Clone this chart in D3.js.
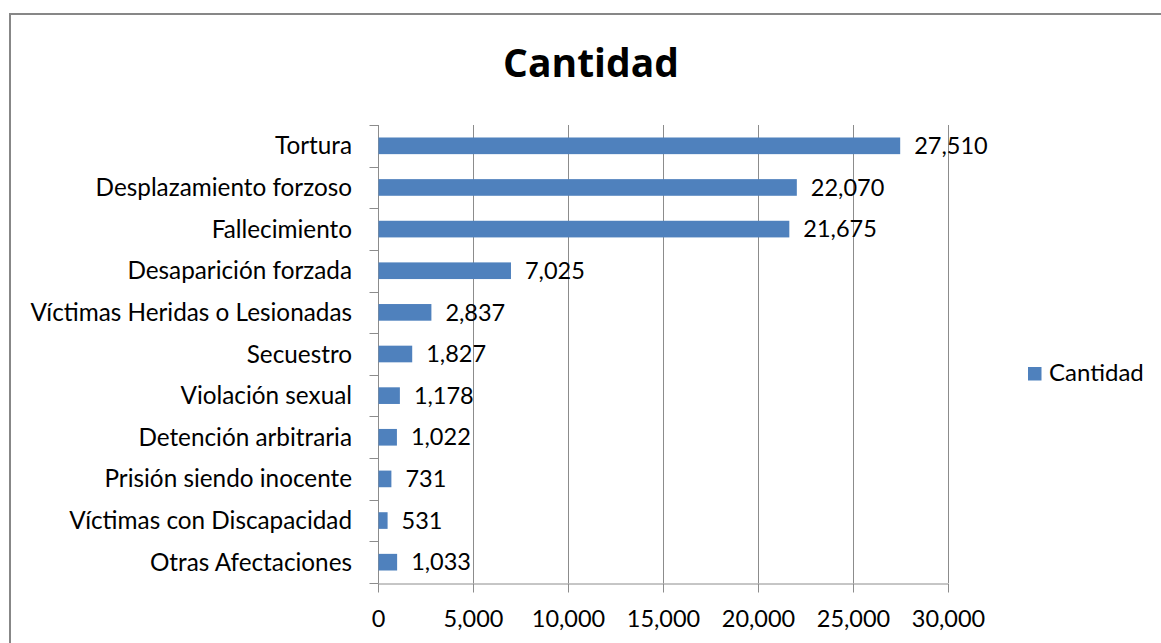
<!DOCTYPE html><html><head><script src="https://cdn.jsdelivr.net/npm/d3@7"></script>
<style>body{margin:0;background:#fff}text{fill:#000}</style></head><body><svg id="s" width="1161" height="643"></svg><script>
const categories=["Tortura","Desplazamiento forzoso","Fallecimiento","Desaparición forzada","Víctimas Heridas o Lesionadas","Secuestro","Violación sexual","Detención arbitraria","Prisión siendo inocente","Víctimas con Discapacidad","Otras Afectaciones"];
const values=[27510,22070,21675,7025,2837,1827,1178,1022,731,531,1033];
const xTicks=[0,5000,10000,15000,20000,25000,30000];
const seriesName="Cantidad";
const titleText="Cantidad";

const svg=d3.select("#s");
const fmt=d3.format(",");
const L=377.5,R=947.5,T=125,B=583;
const x=d3.scaleLinear().domain([0,30000]).range([L,R]);
const y=d3.scaleBand().domain(categories).range([T,B]).paddingInner(0.6).paddingOuter(0.3);
const gridC="#8c8c8c";
const font="Lato, sans-serif";

// frame
svg.append("rect").attr("x",10).attr("y",14).attr("width",1170).attr("height",650).attr("fill","none").attr("stroke","#878787").attr("stroke-width",2);

// title
svg.append("text").attr("x",591).attr("y",77).attr("text-anchor","middle").style("font-family","'Open Sans', sans-serif").style("font-weight","bold").style("font-size","39px").text(titleText);

// gridlines
svg.append("g").selectAll("line").data(xTicks.slice(1)).join("line")
  .attr("x1",d=>Math.round(x(d))+0.5).attr("x2",d=>Math.round(x(d))+0.5).attr("y1",T).attr("y2",B)
  .attr("stroke",gridC).attr("stroke-width",1);

// x axis
const xa=svg.append("g").attr("transform",`translate(0,${B+0.5})`).call(d3.axisBottom(x).tickValues(xTicks).tickFormat(fmt).tickSize(9).tickSizeOuter(0));
xa.select(".domain").attr("stroke",gridC);
xa.selectAll(".tick line").attr("stroke",gridC);
xa.selectAll(".tick text").attr("y",0).attr("dy",0).attr("transform","translate(0,43)").style("font-family",font).style("font-size","23.5px").attr("fill","#000");
xa.selectAll(".tick").attr("transform",d=>`translate(${Math.round(x(d))+0.5},0)`);

// y axis
const step=y.step();
const bounds=d3.range(categories.length+1);
const ya=svg.append("g");
ya.append("line").attr("x1",Math.round(L)+0.5).attr("x2",Math.round(L)+0.5).attr("y1",T).attr("y2",B).attr("stroke",gridC);
ya.selectAll("line.t").data(bounds).join("line").attr("class","t")
  .attr("x1",Math.round(L)-8.5).attr("x2",Math.round(L)+0.5)
  .attr("y1",i=>Math.round(T+i*(B-T)/categories.length)+0.5).attr("y2",i=>Math.round(T+i*(B-T)/categories.length)+0.5)
  .attr("stroke",gridC);
ya.selectAll("text").data(categories).join("text")
  .attr("x",352).attr("y",d=>y(d)+y.bandwidth()/2).attr("dy","0.35em").attr("text-anchor","end")
  .style("font-family",font).style("font-size","24.3px").text(d=>d);

// bars
svg.append("g").selectAll("rect").data(values).join("rect")
  .attr("x",x(0)+1).attr("y",(d,i)=>y(categories[i])).attr("height",y.bandwidth())
  .attr("width",d=>x(d)-x(0)-1).attr("fill","#4F81BD");

// data labels
svg.append("g").selectAll("text").data(values).join("text")
  .attr("x",d=>x(d)+14).attr("y",(d,i)=>y(categories[i])+y.bandwidth()/2).attr("dy","0.35em")
  .style("font-family",font).style("font-size","23.5px").text(d=>fmt(d));

// legend
const lg=svg.append("g");
lg.append("rect").attr("x",1028).attr("y",367).attr("width",13.5).attr("height",13.5).attr("fill","#4F81BD");
lg.append("text").attr("x",1049).attr("y",381).style("font-family",font).style("font-size","24px").text(seriesName);
</script></body></html>
